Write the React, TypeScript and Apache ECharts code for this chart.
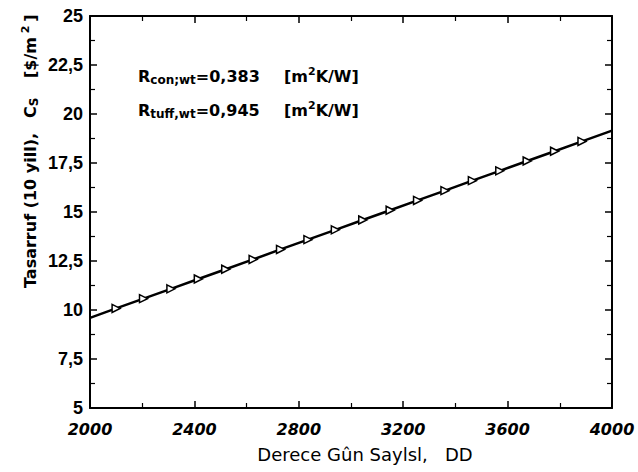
import React, { useEffect, useRef } from "react";
import * as echarts from "echarts";

const xTicks = [2000, 2400, 2800, 3200, 3600, 4000];
const yTicks = [5, 7.5, 10, 12.5, 15, 17.5, 20, 22.5, 25];
const lineX = [2000, 2100, 2205, 2310, 2415, 2520, 2625, 2730, 2835, 2940, 3045, 3150, 3255, 3360, 3465, 3570, 3675, 3780, 3885, 4000];
const lineY = [9.6, 10.08, 10.58, 11.08, 11.58, 12.08, 12.58, 13.09, 13.59, 14.09, 14.59, 15.09, 15.59, 16.09, 16.6, 17.1, 17.6, 18.1, 18.6, 19.15];
const xName = "Derece Gûn Saylsl,   DD";
const yNameMain = "Tasarruf (10 yill),";
const yNameC = "C";
const yNameSub = "S";
const yNameUnit = "[$/m";
const annot1 = { sub: "con;wt", value: "=0,383" };
const annot2 = { sub: "tuff,wt", value: "=0,945" };
const unitMain = "[m";
const unitEnd = "K/W]";

const BOLD = "'DejaVu Sans', sans-serif";
const TRI = "path://M0,0 L10,5 L0,10 Z";

export default function App() {
  const ref = useRef<HTMLDivElement>(null);
  useEffect(() => {
    if (!ref.current) return;
    document.body.style.margin = "0";
    const chart = echarts.init(ref.current, null, { renderer: "svg" });
    const fmt = (v: number) => String(v).replace(".", ",");
    const axisCommon = {
      axisLine: { show: true, lineStyle: { color: "#000", width: 2 } },
      axisTick: { show: true, inside: true, length: 7, lineStyle: { color: "#000", width: 1.5 } },
      minorTick: { show: true, splitNumber: 2, length: 5, lineStyle: { color: "#000", width: 1.2 } },
      splitLine: { show: false },
    };
    const data = lineX.map((x, i) => ({
      value: [x, lineY[i]],
      symbol: i === 0 || i === lineX.length - 1 ? "none" : TRI,
    }));
    const rs = (fontSize: number, va: string) => ({
      fontFamily: BOLD,
      fontWeight: "bold",
      fontSize,
      fill: "#000",
      lineHeight: 20,
      verticalAlign: va,
    });
    const rich = { n: rs(16, "middle"), sub: rs(12, "bottom"), sup: rs(11, "top") };
    const richY = { n: rs(16, "middle"), sub: rs(12, "bottom"), sup: rs(11, "top") };
    const txt = (x: number, y: number, text: string, r: any, rot = 0) => ({
      type: "text",
      x,
      y,
      rotation: rot,
      style: { text, align: "left", verticalAlign: "middle", rich: r },
    });
    chart.setOption({
      animation: false,
      backgroundColor: "#fff",
      grid: { left: 90, right: 26, top: 16, bottom: 64, containLabel: false },
      xAxis: [
        {
          type: "value",
          min: 2000,
          max: 4000,
          interval: 400,
          ...axisCommon,
          axisLabel: {
            color: "#000",
            fontFamily: BOLD,
            fontSize: 16,
            fontWeight: "bold",
            fontStyle: "italic",
            margin: 13,
            formatter: (v: number) => String(v),
          },
        },
        {
          type: "value",
          position: "top",
          min: 2000,
          max: 4000,
          interval: 400,
          ...axisCommon,
          axisLabel: { show: false },
        },
      ],
      yAxis: [
        {
          type: "value",
          min: 5,
          max: 25,
          interval: 2.5,
          ...axisCommon,
          axisLabel: {
            color: "#000",
            fontFamily: "'Liberation Sans', Arial, sans-serif",
            fontSize: 18,
            fontWeight: "bold",
            margin: 7,
            formatter: fmt,
          },
        },
        {
          type: "value",
          position: "right",
          min: 5,
          max: 25,
          interval: 2.5,
          ...axisCommon,
          axisLabel: { show: false },
        },
      ],
      series: [
        {
          type: "line",
          data,
          symbolSize: [8, 8],
          itemStyle: { color: "#fff", borderColor: "#000", borderWidth: 1.5 },
          lineStyle: { color: "#000", width: 2.5 },
          showAllSymbol: true,
          z: 3,
        },
      ],
      graphic: [
        txt(30, 288, `{n|${yNameMain}}`, richY, Math.PI / 2),
        txt(30, 118, `{n|${yNameC}}{sub|${yNameSub}}`, richY, Math.PI / 2),
        txt(30, 78, `{n|${yNameUnit}}{sup| 2 }{n|]}`, richY, Math.PI / 2),
        txt(138, 76, `{n|R}{sub|${annot1.sub}}{n|${annot1.value}}`, rich),
        txt(284, 76, `{n|${unitMain}}{sup|2}{n|${unitEnd}}`, rich),
        txt(138, 110, `{n|R}{sub|${annot2.sub}}{n|${annot2.value}}`, rich),
        txt(284, 110, `{n|${unitMain}}{sup|2}{n|${unitEnd}}`, rich),
        {
          type: "text",
          x: 365,
          y: 454,
          style: {
            text: xName,
            align: "center",
            verticalAlign: "middle",
            fontFamily: BOLD,
            fontSize: 18,
            fill: "#000",
          },
        },
      ],
    });
    return () => chart.dispose();
  }, []);
  return <div ref={ref} style={{ width: 638, height: 472 }} />;
}
